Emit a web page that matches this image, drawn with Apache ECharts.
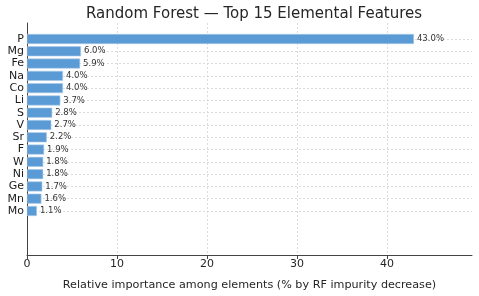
<!DOCTYPE html>
<html><head><meta charset="utf-8">
<script src="https://cdn.jsdelivr.net/npm/echarts@6/dist/echarts.min.js"></script>
<style>html,body{margin:0;padding:0;background:#fff}#c{width:479px;height:296px}</style>
</head><body><div id="c"></div>
<script>
const categories = ['P','Mg','Fe','Na','Co','Li','S','V','Sr','F','W','Ni','Ge','Mn','Mo'];
const values = [43.0, 6.0, 5.9, 4.0, 4.0, 3.7, 2.8, 2.7, 2.2, 1.9, 1.8, 1.8, 1.7, 1.6, 1.1];
const xTicks = [0, 10, 20, 30, 40];
const xMax = 49.45;
const FONT = 'DejaVu Sans';
const chart = echarts.init(document.getElementById('c'), null, {renderer: 'canvas'});
chart.setOption({
  animation: false,
  backgroundColor: '#fff',
  title: {text: 'Random Forest \u2014 Top 15 Elemental Features', left: 81, top: 2,
    textStyle: {fontFamily: FONT, fontSize: 15, fontWeight: 'normal', color: '#262626'}},
  grid: [
    {left: 27, right: 7, top: 23, bottom: 41},
    {left: 27, right: 7, top: 39, bottom: 85}
  ],
  xAxis: [
    {gridIndex: 0, type: 'value', min: 0, max: xMax, interval: 10,
      axisLine: {show: true, lineStyle: {color: '#444', width: 1}},
      axisTick: {show: true, length: 4, lineStyle: {color: '#444'},
        customValues: xTicks},
      axisLabel: {fontFamily: FONT, fontSize: 11, color: '#262626', margin: 4, customValues: xTicks},
      splitLine: {show: true, lineStyle: {color: '#d4d4d4', type: [2, 2], width: 0.8}},
      name: 'Relative importance among elements (% by RF impurity decrease)',
      nameLocation: 'middle', nameGap: 25,
      nameTextStyle: {fontFamily: FONT, fontSize: 11.2, color: '#262626'}},
    {gridIndex: 1, type: 'value', min: 0, max: xMax, show: false}
  ],
  yAxis: [
    {gridIndex: 0, type: 'value', min: 0, max: 1,
      axisLine: {show: true, lineStyle: {color: '#444', width: 1}},
      axisTick: {show: false}, axisLabel: {show: false}, splitLine: {show: false}},
    {gridIndex: 1, type: 'category', data: categories, inverse: true, boundaryGap: false,
      axisLine: {show: false},
      axisTick: {show: true, inside: true, length: 3, lineStyle: {color: '#444'}},
      axisLabel: {fontFamily: FONT, fontSize: 11, color: '#1a1a1a', margin: 3, interval: 0},
      splitLine: {show: true, lineStyle: {color: '#d4d4d4', type: [2, 2], width: 0.8}}}
  ],
  series: [{
    type: 'bar', xAxisIndex: 1, yAxisIndex: 1, data: values, barWidth: 10,
    itemStyle: {color: '#5b9bd5', borderColor: '#a9c9e8', borderWidth: 0.6},
    label: {show: true, position: 'right', distance: 3, fontFamily: FONT, fontSize: 8.5, color: '#333',
      formatter: p => p.value.toFixed(1) + '%'}
  }]
});
</script></body></html>
